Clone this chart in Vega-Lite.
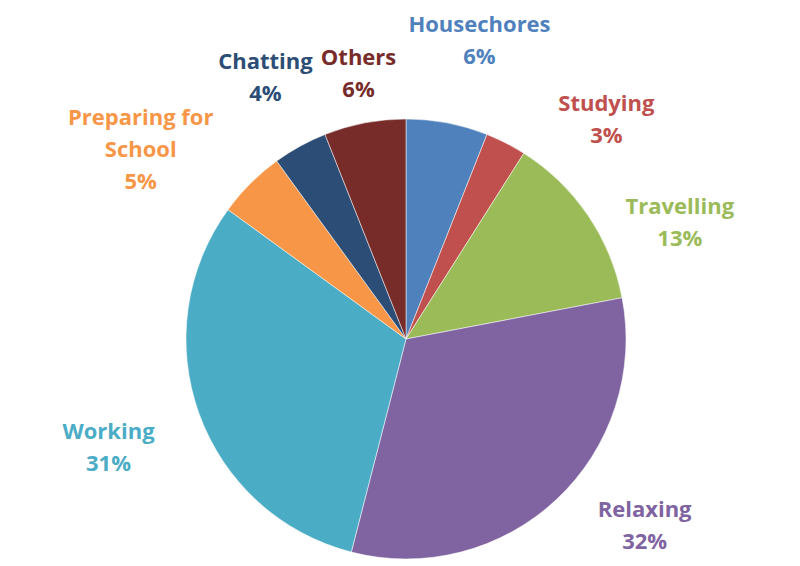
{
  "$schema": "https://vega.github.io/schema/vega-lite/v6.json",
  "width": 788,
  "height": 454,
  "autosize": {"type": "none"},
  "padding": {"left": 12, "top": 112, "right": 0, "bottom": 0},
  "background": "white",
  "view": {"stroke": null},
  "data": {
    "values": [
      {"activity": "Housechores", "pct": 6, "order": 1, "label": "Housechores\n6%"},
      {"activity": "Studying", "pct": 3, "order": 2, "label": "Studying\n3%"},
      {"activity": "Travelling", "pct": 13, "order": 3, "label": "Travelling\n13%"},
      {"activity": "Relaxing", "pct": 32, "order": 4, "label": "Relaxing\n32%"},
      {"activity": "Working", "pct": 31, "order": 5, "label": "Working\n31%"},
      {"activity": "Preparing for School", "pct": 5, "order": 6, "label": "Preparing for\nSchool\n5%"},
      {"activity": "Chatting", "pct": 4, "order": 7, "label": "Chatting\n4%"},
      {"activity": "Others", "pct": 6, "order": 8, "label": "Others\n6%"}
    ]
  },
  "encoding": {
    "theta": {"field": "pct", "type": "quantitative", "stack": true},
    "order": {"field": "order", "type": "quantitative"},
    "color": {
      "field": "activity",
      "type": "nominal",
      "legend": null,
      "scale": {
        "domain": ["Housechores", "Studying", "Travelling", "Relaxing", "Working", "Preparing for School", "Chatting", "Others"],
        "range": ["#4F81BD", "#C0504D", "#9BBB59", "#8064A2", "#4BACC6", "#F79646", "#2C4D75", "#772C2A"]
      }
    }
  },
  "layer": [
    {
      "mark": {"type": "arc", "outerRadius": 220, "stroke": "white", "strokeWidth": 0.5}
    },
    {
      "mark": {"type": "text", "radius": 296, "dx": 18, "dy": -23, "font": "Open Sans", "fontWeight": "bold", "fontSize": 22, "lineBreak": "\n", "lineHeight": 32, "align": "center", "baseline": "middle"},
      "encoding": {"text": {"condition": {"test": "datum.activity === 'Housechores'", "field": "label", "type": "nominal"}, "value": ""}}
    },
    {
      "mark": {"type": "text", "radius": 296, "dx": 66, "dy": 29, "font": "Open Sans", "fontWeight": "bold", "fontSize": 22, "lineBreak": "\n", "lineHeight": 32, "align": "center", "baseline": "middle"},
      "encoding": {"text": {"condition": {"test": "datum.activity === 'Studying'", "field": "label", "type": "nominal"}, "value": ""}}
    },
    {
      "mark": {"type": "text", "radius": 296, "dx": 29, "dy": 34, "font": "Open Sans", "fontWeight": "bold", "fontSize": 22, "lineBreak": "\n", "lineHeight": 32, "align": "center", "baseline": "middle"},
      "encoding": {"text": {"condition": {"test": "datum.activity === 'Travelling'", "field": "label", "type": "nominal"}, "value": ""}}
    },
    {
      "mark": {"type": "text", "radius": 296, "dx": 36, "dy": -45, "font": "Open Sans", "fontWeight": "bold", "fontSize": 22, "lineBreak": "\n", "lineHeight": 32, "align": "center", "baseline": "middle"},
      "encoding": {"text": {"condition": {"test": "datum.activity === 'Relaxing'", "field": "label", "type": "nominal"}, "value": ""}}
    },
    {
      "mark": {"type": "text", "radius": 296, "dx": -19, "dy": -7, "font": "Open Sans", "fontWeight": "bold", "fontSize": 22, "lineBreak": "\n", "lineHeight": 32, "align": "center", "baseline": "middle"},
      "encoding": {"text": {"condition": {"test": "datum.activity === 'Working'", "field": "label", "type": "nominal"}, "value": ""}}
    },
    {
      "mark": {"type": "text", "radius": 296, "dx": -56, "dy": -12, "font": "Open Sans", "fontWeight": "bold", "fontSize": 22, "lineBreak": "\n", "lineHeight": 32, "align": "center", "baseline": "middle"},
      "encoding": {"text": {"condition": {"test": "datum.activity === 'Preparing for School'", "field": "label", "type": "nominal"}, "value": ""}}
    },
    {
      "mark": {"type": "text", "radius": 296, "dx": 2, "dy": -18, "font": "Open Sans", "fontWeight": "bold", "fontSize": 22, "lineBreak": "\n", "lineHeight": 32, "align": "center", "baseline": "middle"},
      "encoding": {"text": {"condition": {"test": "datum.activity === 'Chatting'", "field": "label", "type": "nominal"}, "value": ""}}
    },
    {
      "mark": {"type": "text", "radius": 296, "dx": 8, "dy": 10, "font": "Open Sans", "fontWeight": "bold", "fontSize": 22, "lineBreak": "\n", "lineHeight": 32, "align": "center", "baseline": "middle"},
      "encoding": {"text": {"condition": {"test": "datum.activity === 'Others'", "field": "label", "type": "nominal"}, "value": ""}}
    }
  ]
}
